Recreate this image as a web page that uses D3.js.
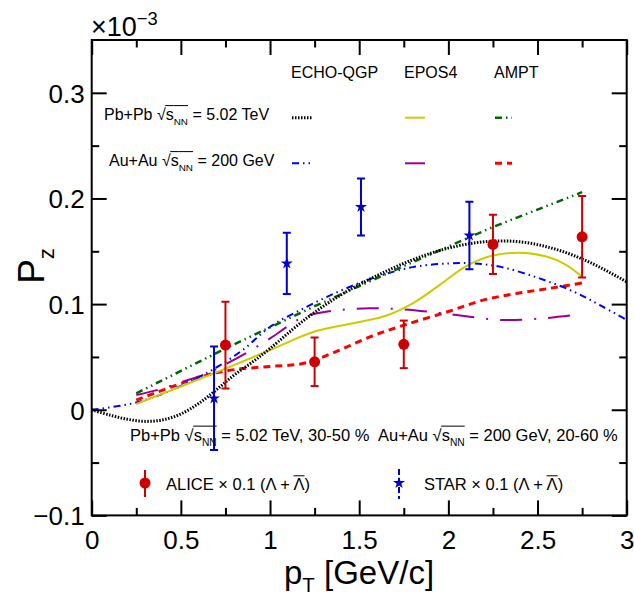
<!DOCTYPE html>
<html><head><meta charset="utf-8">
<script src="https://cdn.jsdelivr.net/npm/d3@7"></script>
<style>body{margin:0;background:#fff}svg{display:block}text{font-family:"Liberation Sans",Arial,Helvetica,sans-serif;fill:#000}</style>
</head><body><svg id="c" width="634" height="600"></svg>
<script>
// ---------- data ----------
const xTicksMajor=[0,0.5,1,1.5,2,2.5,3];
const xTicksMinor=[0.25,0.75,1.25,1.75,2.25,2.75];
const xTickLabels=["0","0.5","1","1.5","2","2.5","3"];
const yTicksMajor=[-0.1,0,0.1,0.2,0.3];
const yTicksMinor=[-0.05,0.05,0.15,0.25];
const yTickLabels=["\u22120.1","0","0.1","0.2","0.3"];

// ECHO-QGP Pb+Pb (black dotted)
const echoPbX=[0,0.1,0.2,0.3,0.4,0.5,0.6,0.7,0.8,0.9,1.0,1.2,1.4,1.6,1.8,2.0,2.2,2.4,2.6,2.8,3.0];
const echoPbY=[0,-0.005,-0.009,-0.011,-0.0095,-0.004,0.006,0.019,0.033,0.045,0.058,0.086,0.109,0.127,0.142,0.153,0.159,0.159,0.152,0.139,0.121];
// EPOS4 Pb+Pb (yellow solid)
const eposPbX=[0.25,0.5,0.75,1.0,1.25,1.5,1.65,1.8,1.95,2.1,2.25,2.4,2.55,2.65,2.75];
const eposPbY=[0.0054,0.022,0.039,0.0565,0.074,0.083,0.089,0.1007,0.118,0.136,0.146,0.1485,0.145,0.138,0.126];
// AMPT Pb+Pb (green dash-dot-dot)
const amptPbX=[0.25,0.75,1.25,1.75,2.25,2.75];
const amptPbY=[0.0155,0.058,0.098,0.136,0.173,0.206];
// ECHO-QGP Au+Au (blue dash-dot-dot)
const echoAuX=[0,0.2,0.35,0.5,0.675,0.85,1.0,1.2,1.4,1.6,1.8,2.0,2.15,2.3,2.5,2.7,2.85,3.0];
const echoAuY=[0,0.005,0.012,0.0225,0.0376,0.057,0.0785,0.097,0.113,0.126,0.135,0.1385,0.1385,0.135,0.125,0.112,0.099,0.085];
// EPOS4 Au+Au (purple long dash-dot)
const eposAuX=[0.25,0.375,0.5,0.64,0.75,0.88,1.0,1.1,1.19,1.37,1.56,1.75,1.94,2.1,2.29,2.53,2.75];
const eposAuY=[0.014,0.019,0.026,0.034,0.043,0.055,0.0675,0.079,0.088,0.094,0.096,0.095,0.0918,0.0886,0.085,0.0865,0.0905];
// AMPT Au+Au (red dashed)
const amptAuX=[0.25,0.45,0.65,0.8,1.0,1.19,1.37,1.56,1.75,2.0,2.2,2.38,2.57,2.75];
const amptAuY=[0.0092,0.0218,0.033,0.038,0.041,0.044,0.055,0.069,0.080,0.093,0.104,0.110,0.115,0.12];

// measurements
const aliceX=[0.75,1.25,1.75,2.25,2.75];
const aliceY=[0.0612,0.0454,0.0619,0.1565,0.1637];
const aliceErr=[0.041,0.023,0.0225,0.028,0.0386];
const starX=[0.686,1.094,1.51,2.118];
const starY=[0.0108,0.1385,0.192,0.165];
const starErr=[0.049,0.029,0.027,0.032];

const modelHeaders=["ECHO-QGP","EPOS4","AMPT"];

// ---------- drawing ----------
const svg=d3.select("#c");
const FONT='"Liberation Sans",Arial,Helvetica,sans-serif';
const x=d3.scaleLinear().domain([0,3]).range([91.7,626.7]);
const y=d3.scaleLinear().domain([-0.1,0.35]).range([515.4,40]);
const L=91.7,R=626.7,T=40,B=515.4;

const styles={
  echoPb:{c:"#000000",w:3,d:"1.5,1.5"},
  eposPb:{c:"#cccc00",w:2,d:null},
  amptPb:{c:"#006600",w:2.5,d:"7,4,1.5,4,1.5,4"},
  echoAu:{c:"#0000ff",w:2,d:"7,4,1.5,4,1.5,4"},
  eposAu:{c:"#990099",w:2,d:"22,12,2,12"},
  amptAu:{c:"#ff0000",w:3,d:"7,5"}
};

svg.append("defs").append("clipPath").attr("id","clip")
  .append("rect").attr("x",L).attr("y",T).attr("width",R-L).attr("height",B-T);

const plot=svg.append("g").attr("clip-path","url(#clip)");

function curve(xs,ys,st,linear){
  const pts=xs.map((v,i)=>[v,ys[i]]);
  const gen=d3.line().x(d=>x(d[0])).y(d=>y(d[1]))
    .curve(linear?d3.curveLinear:d3.curveCatmullRom.alpha(0.5));
  plot.append("path").datum(pts).attr("d",gen).attr("fill","none")
    .attr("stroke",st.c).attr("stroke-width",st.w)
    .attr("stroke-dasharray",st.d);
}
curve(amptAuX,amptAuY,styles.amptAu);
curve(eposAuX,eposAuY,styles.eposAu);
curve(echoAuX,echoAuY,styles.echoAu);
curve(eposPbX,eposPbY,styles.eposPb);
curve(amptPbX,amptPbY,styles.amptPb,true);
curve(echoPbX,echoPbY,styles.echoPb);

// error bars + markers
function errBars(xs,ys,es,color){
  const g=plot.append("g");
  xs.forEach((v,i)=>{
    g.append("line").attr("x1",x(v)).attr("x2",x(v)).attr("y1",y(ys[i]-es[i])).attr("y2",y(ys[i]+es[i]))
      .attr("stroke",color).attr("stroke-width",2);
    [ys[i]-es[i],ys[i]+es[i]].forEach(e=>{
      g.append("line").attr("x1",x(v)-4).attr("x2",x(v)+4).attr("y1",y(e)).attr("y2",y(e))
        .attr("stroke",color).attr("stroke-width",2);
    });
  });
}
errBars(aliceX,aliceY,aliceErr,"#cc0000");
errBars(starX,starY,starErr,"#0000cc");
plot.selectAll(".alice").data(aliceX).enter().append("circle")
  .attr("cx",d=>x(d)).attr("cy",(d,i)=>y(aliceY[i])).attr("r",5.5).attr("fill","#cc0000");
const star=d3.symbol().type(d3.symbolStar).size(45);
plot.selectAll(".star").data(starX).enter().append("path")
  .attr("d",star).attr("transform",(d,i)=>`translate(${x(d)},${y(starY[i])})`).attr("fill","#0000cc");

// frame
svg.append("rect").attr("x",L).attr("y",T).attr("width",R-L).attr("height",B-T)
  .attr("fill","none").attr("stroke","#000").attr("stroke-width",2);

// axes (ticks inward)
function axis(gen,tx,ty,vals,size,labels){
  const g=svg.append("g").attr("transform",`translate(${tx},${ty})`)
    .call(gen.tickValues(vals).tickSize(size).tickPadding(labels?16:0)
      .tickFormat(labels?((d,i)=>labels[i]):()=>""));
  g.select(".domain").remove();
  g.selectAll("line").attr("stroke","#000").attr("stroke-width",2);
  g.selectAll("text").attr("font-family",FONT).attr("font-size",26).attr("fill","#000");
  return g;
}
const xb=axis(d3.axisBottom(x),0,B,xTicksMajor,-15,xTickLabels);
xb.selectAll("text").attr("dy",null).attr("y",null).attr("transform","translate(0,34)");
axis(d3.axisBottom(x),0,B,xTicksMinor,-7.5,null);
axis(d3.axisTop(x),0,T,xTicksMajor,-15,null);
axis(d3.axisTop(x),0,T,xTicksMinor,-7.5,null);
const yl=axis(d3.axisLeft(y),L,0,yTicksMajor,-15,yTickLabels);
yl.selectAll("text").attr("x",-7).attr("dy","0.36em");
axis(d3.axisLeft(y),L,0,yTicksMinor,-7.5,null);
axis(d3.axisRight(y),R,0,yTicksMajor,-15,null);
axis(d3.axisRight(y),R,0,yTicksMinor,-7.5,null);

// rich text helper
function rich(px,py,size,parts,anchor,subShift){
  const t=svg.append("text").attr("x",px).attr("y",py).attr("font-size",size)
    .attr("text-anchor",anchor||"start");
  let cur=0, idx=0; const marks=[];
  parts.forEach(p=>{
    let target=0, fs=size;
    if(p.sub){target=size*(subShift||0.3);fs=size*0.62;}
    if(p.sup){target=-size*0.42;fs=size*0.68;}
    const ts=t.append("tspan").text(p.t).attr("font-size",fs);
    if(target!==cur){ts.attr("dy",target-cur);cur=target;}
    marks.push({p,start:idx,end:idx+p.t.length-1});
    idx+=p.t.length;
  });
  const node=t.node();
  marks.forEach(m=>{
    if(m.p.over){
      const a=node.getStartPositionOfChar(m.start).x, b=node.getEndPositionOfChar(m.end).x;
      svg.append("line").attr("x1",a-(m.p.ext||0)).attr("x2",b).attr("y1",py-m.p.over*size).attr("y2",py-m.p.over*size)
        .attr("stroke","#000").attr("stroke-width",1);
    }
  });
  return t;
}
const sqrtParts=(e)=>[{t:"\u221A"},{t:"s",over:0.9,ext:0.5},{t:"NN",sub:true,over:0.9},{t:" = "+e}];

// x-axis title
rich(284,584,33,[{t:"p"},{t:"T",sub:true},{t:" [GeV/c]"}],"start",0.24);
// y-axis title
svg.append("text").attr("transform","translate(44,266) rotate(-90)").attr("text-anchor","middle")
  .attr("font-size",37).call(t=>{t.append("tspan").text("P");t.append("tspan").text("z").attr("font-size",22).attr("dy",10);});
// exponent
rich(91,36,27,[{t:"\u00D710"},{t:"\u22123",sup:true}]);

// legend table
const headX=[291,404,494];
modelHeaders.forEach((h,i)=>svg.append("text").attr("x",headX[i]).attr("y",78).attr("font-size",16).text(h));
rich(104,120,16,[{t:"Pb+Pb "}].concat(sqrtParts("5.02 TeV")));
rich(109,166,16,[{t:"Au+Au "}].concat(sqrtParts("200 GeV")));
const legRows=[[styles.echoPb,styles.eposPb,styles.amptPb],[styles.echoAu,styles.eposAu,styles.amptAu]];
const legY=[117.7,163.3];
const legX=[[292,312],[405,425],[495,512]];
legRows.forEach((row,r)=>row.forEach((st,c)=>{
  svg.append("line").attr("x1",legX[c][0]).attr("x2",legX[c][1]).attr("y1",legY[r]).attr("y2",legY[r])
    .attr("stroke",st.c).attr("stroke-width",st.w).attr("stroke-dasharray",st.d);
}));

// bottom labels
rich(130,441,16.5,[{t:"Pb+Pb "}].concat(sqrtParts("5.02 TeV, 30-50 %")));
rich(378,441,16.5,[{t:"Au+Au "}].concat(sqrtParts("200 GeV, 20-60 %")));

// data legend
svg.append("line").attr("x1",145).attr("x2",145).attr("y1",470).attr("y2",497).attr("stroke","#cc0000").attr("stroke-width",2);
svg.append("circle").attr("cx",145).attr("cy",483).attr("r",5.5).attr("fill","#cc0000");
rich(166,490,16.5,[{t:"ALICE \u00D7 0.1 (\u039B + "},{t:"\u039B",over:0.86},{t:")"}]);
svg.append("line").attr("x1",399).attr("x2",399).attr("y1",469).attr("y2",499).attr("stroke","#0000cc").attr("stroke-width",2).attr("stroke-dasharray","6,3");
svg.append("path").attr("d",star).attr("transform","translate(399,483)").attr("fill","#0000cc");
rich(424,490,16.5,[{t:"STAR \u00D7 0.1 (\u039B + "},{t:"\u039B",over:0.86},{t:")"}]);
</script></body></html>
